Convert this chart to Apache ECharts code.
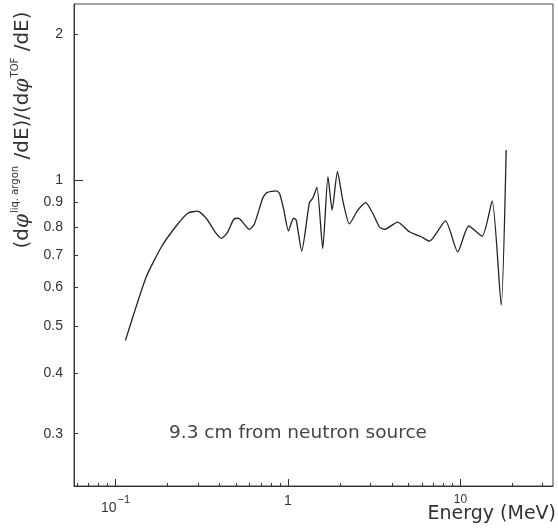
<!DOCTYPE html>
<html><head><meta charset="utf-8">
<script src="https://cdn.jsdelivr.net/npm/echarts@6/dist/echarts.min.js"></script>
<style>html,body{margin:0;padding:0;background:#fff}#c{width:558px;height:529px}</style>
</head><body><div id="c"></div>
<script>
// Energy (MeV)
const energy = [0.1143, 0.1507, 0.186, 0.225, 0.2625, 0.2987, 0.3357, 0.3835, 0.413, 0.448, 0.485, 0.5165,
  0.598, 0.639, 0.714, 0.754, 0.854, 0.893, 0.942, 1.007, 1.076, 1.116, 1.202, 1.332, 1.392, 1.473,
  1.591, 1.706, 1.804, 1.936, 2.078, 2.273, 2.54, 2.825, 3.10, 3.39, 3.626, 4.33, 5.06, 5.92, 6.61,
  8.19, 9.64, 11.17, 13.36, 15.27, 17.22, 18.41];
// ratio (dphi_liq.argon/dE)/(dphi_TOF/dE)
const ratio = [0.467, 0.631, 0.731, 0.804, 0.854, 0.863, 0.834, 0.776, 0.758, 0.782, 0.830, 0.834,
  0.791, 0.812, 0.917, 0.942, 0.950, 0.939, 0.874, 0.785, 0.834, 0.827, 0.714, 0.899, 0.917, 0.966,
  0.722, 1.016, 0.867, 1.040, 0.909, 0.812, 0.867, 0.898, 0.854, 0.801, 0.791, 0.819, 0.782, 0.764, 0.748,
  0.824, 0.711, 0.804, 0.766, 0.906, 0.552, 1.153];
const xMajorTicks = [0.1, 1, 10];
const xMinorTicks = [0.06, 0.07, 0.08, 0.09, 0.2, 0.3, 0.4, 0.5, 0.6, 0.7, 0.8, 0.9,
  2, 3, 4, 5, 6, 7, 8, 9, 20, 30];
const yMajorTicks = [1];
const yTickLabels = [0.3, 0.4, 0.5, 0.6, 0.7, 0.8, 0.9, 1, 2];

const X_MIN = 0.0575, X_MAX = 34.4, Y_MIN = 0.234, Y_MAX = 2.306;
const chart = echarts.init(document.getElementById('c'), null, {renderer: 'canvas'});
const font = 'Liberation Sans';
const wide = 'DejaVu Sans';
const option = {
  backgroundColor: '#fff',
  animation: false,
  grid: {left: 74, right: 5, top: 4, bottom: 43, show: true, borderColor: '#444', borderWidth: 1, backgroundColor: 'transparent'},
  xAxis: [{
    type: 'log', min: X_MIN, max: X_MAX, position: 'bottom',
    axisLine: {show: true, onZero: false, lineStyle: {color: '#333', width: 1}},
    splitLine: {show: false},
    axisTick: {show: true, inside: true, length: 7, customValues: xMajorTicks, lineStyle: {color: '#333'}},
    axisLabel: {
      customValues: xMajorTicks, margin: 8, color: '#333', fontFamily: font, fontSize: 13,
      formatter: v => (Math.abs(v - 0.1) < 1e-9 ? '{b|10}{s|−1}' : (Math.abs(v - 10) < 1e-9 ? '{t|10}' : '{b|1}')),
      rich: {
        b: {fontSize: 14, fontFamily: font, color: '#333', verticalAlign: 'bottom'},
        s: {fontSize: 11, fontFamily: font, color: '#333', verticalAlign: 'top', padding: [0, 0, 10, 1]},
        t: {fontSize: 12, fontFamily: font, color: '#333', padding: [0, 0, 14, 0]}
      }
    }
  }, {
    type: 'log', min: X_MIN, max: X_MAX, position: 'bottom',
    axisLine: {show: false}, splitLine: {show: false},
    axisTick: {show: true, inside: true, length: 3, customValues: xMinorTicks, lineStyle: {color: '#333'}},
    axisLabel: {show: false}
  }],
  yAxis: [{
    type: 'log', min: Y_MIN, max: Y_MAX,
    axisLine: {show: true, onZero: false, lineStyle: {color: '#333', width: 1}},
    splitLine: {show: false},
    axisTick: {show: true, inside: true, length: 9, customValues: yMajorTicks, lineStyle: {color: '#333'}},
    axisLabel: {customValues: yTickLabels, margin: 11, color: '#333', fontFamily: font, fontSize: 14,
      formatter: v => String(Math.round(v * 10) / 10)}
  }, {
    type: 'log', min: Y_MIN, max: Y_MAX, position: 'left',
    axisLine: {show: false}, splitLine: {show: false},
    axisTick: {show: true, inside: true, length: 4, customValues: yTickLabels, lineStyle: {color: '#333'}},
    axisLabel: {show: false}
  }],
  graphic: [{
    type: 'text', x: 23, y: 130, rotation: Math.PI / 2,
    style: {
      text: '{n|(d}{i|φ}{sup|liq. argon}{n| /dE)/(d}{i|φ}{sup|TOF}{n| /dE)}',
      align: 'center', verticalAlign: 'middle',
      rich: {
        n: {fontSize: 20, fontFamily: wide, fill: '#333'},
        i: {fontSize: 20, fontFamily: 'DejaVu Serif', fontStyle: 'italic', fill: '#333'},
        sup: {fontSize: 10, fontFamily: wide, fill: '#333', padding: [0, 0, 15, 1]}
      }
    }
  }, {
    type: 'text', x: 556, y: 514,
    style: {text: 'Energy (MeV)', align: 'right', verticalAlign: 'middle', fontSize: 19, fontFamily: wide, fill: '#333'}
  }, {
    type: 'text', x: 298, y: 433,
    style: {text: '9.3 cm from neutron source', align: 'center', verticalAlign: 'middle', fontSize: 18.5, fontFamily: wide, fill: '#444'}
  }],
  series: [{
    type: 'line', xAxisIndex: 0, yAxisIndex: 0,
    data: energy.map((e, i) => [e, ratio[i]]),
    showSymbol: false, smooth: 0.2,
    lineStyle: {color: '#222', width: 1.3}
  }]
};
chart.setOption(option);
</script></body></html>
